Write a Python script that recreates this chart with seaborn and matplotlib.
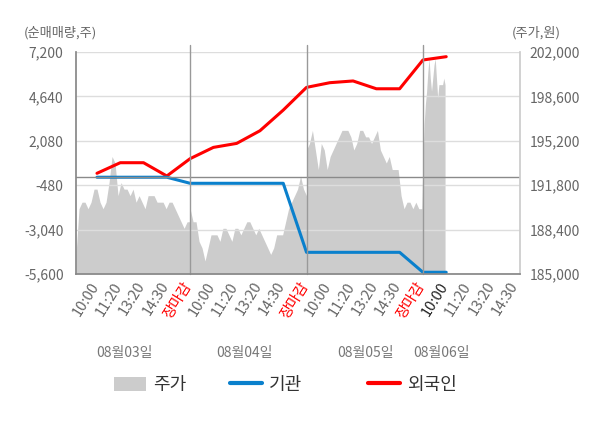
import numpy as np
import pandas as pd
import seaborn as sns
import matplotlib.pyplot as plt
import matplotlib.transforms as mtransforms
from matplotlib.patches import Patch
from matplotlib.lines import Line2D

# x axis labels (one per slot)
tick_labels = ["10:00", "11:20", "13:20", "14:30", "장마감",
               "10:00", "11:20", "13:20", "14:30", "장마감",
               "10:00", "11:20", "13:20", "14:30", "장마감",
               "10:00", "11:20", "13:20", "14:30"]
dates = ["08월03일", "08월04일", "08월05일", "08월06일"]

# net buying (shares) at each published time, slots 1..16
foreign = [206, 817, 817, 50, 1050, 1700, 1930, 2660, 3850, 5160,
           5430, 5530, 5080, 5080, 6740, 6930]
inst = [-20, -20, -20, -20, -370, -370, -370, -370, -370, -4350,
        -4350, -4350, -4350, -4350, -5500, -5500]

# intraday price (won)
price_d1 = [186500, 190000, 190500, 190500, 190000, 190500, 191500, 191500, 190500, 190000,
            190500, 192000, 194000, 193500, 191000, 192000, 191500, 191500, 191000, 191500,
            190500, 191000, 190500, 190000, 191000, 191000, 191000, 190500, 190500, 190500,
            190000, 190500, 190500, 190000, 189500, 189000, 188500, 189000, 189000]
price_d2 = [190000, 189000, 189000, 187500, 187000, 186000, 187000, 188000, 188000, 188000,
            187500, 188500, 188500, 188000, 187500, 188500, 188500, 188000, 188500, 189000,
            189000, 188500, 188000, 188500, 188000, 187500, 187000, 186500, 187000, 188000,
            188000, 188000, 189000, 190000, 190500, 191000, 191500, 192500, 191500, 191000]
price_d3 = [194500, 195000, 196000, 194500, 193000, 195000, 194500, 193000, 194000, 194500,
            195000, 195500, 196000, 196000, 196000, 195500, 194500, 195000, 196000, 196000,
            195500, 195500, 195000, 195500, 196000, 194500, 194000, 193500, 194000, 193000,
            193000, 193000, 191000, 190000, 190500, 190500, 190000, 190500, 190000, 190000]
price_d4 = [193500, 196500, 198000, 199000, 200500, 201500, 200000, 199000, 200000, 201000,
            201500, 200000, 198500, 199500, 199500, 199500, 199500, 200000, 199500]

day_spans = [(0.1, 5.0), (5.0, 10.0), (10.0, 14.95), (15.0, 15.95)]

price_x, price_y = [], []
for (a, b), p in zip(day_spans, [price_d1, price_d2, price_d3, price_d4]):
    price_x.extend(np.linspace(a, b, len(p)))
    price_y.extend(p)
price_df = pd.DataFrame({"slot": price_x, "price": price_y})

lines_df = pd.DataFrame({"slot": np.arange(1, len(foreign) + 1),
                         "foreign": foreign, "inst": inst})

sns.set_theme(style="white")
plt.rcParams["font.family"] = ["Noto Sans CJK KR", "DejaVu Sans"]

fig = plt.figure(figsize=(6, 4.28), dpi=100)
ax = fig.add_axes([0.1267, 0.3598, 0.74, 0.5187])
ax2 = ax.twinx()

# price area on the back axis
ax2.set_facecolor("#f4f4f4")
ax2.fill_between(price_df["slot"], 185000, price_df["price"], color="#cccccc", lw=0)
ax2.set_ylim(185000, 202000)
ax2.set_yticks(np.arange(185000, 202001, 3400))
ax2.set_yticklabels([f"{v:,}" for v in np.arange(185000, 202001, 3400)])
ax2.tick_params(axis="y", length=0, pad=7, labelsize=10, labelcolor="#666666")
for s in ax2.spines.values():
    s.set_visible(False)

# lines on the front axis
ax.set_zorder(ax2.get_zorder() + 1)
ax.patch.set_visible(False)
sns.lineplot(data=lines_df, x="slot", y="foreign", ax=ax, color="#ff0000", lw=2.2)
sns.lineplot(data=lines_df, x="slot", y="inst", ax=ax, color="#0a80cc", lw=2.2)

ax.set_ylim(-5600, 7200)
yt = np.arange(-5600, 7201, 2560)
ax.set_yticks(yt)
ax.set_yticklabels([f"{v:,}" for v in yt])
ax.tick_params(axis="y", length=0, pad=9, labelsize=10, labelcolor="#666666")
ax.grid(axis="y", color="#dddddd", lw=1)
ax.axhline(0, color="#8a8a8a", lw=1)
for v in [5, 10, 15]:
    ax.axvline(v, color="#999999", lw=1, ymax=1.03, clip_on=False)

ax.xaxis.remove_overlapping_locs = False
ax.set_xlim(0.1, 19.17)
ax.set_xticks([0.1, 5, 10, 15, 19.17])
ax.set_xticklabels([])
ax.tick_params(axis="x", which="major", length=4, width=1, color="#888888")
ax.set_xticks(np.arange(1, 20), minor=True)
ax.set_xticklabels(tick_labels, minor=True, rotation=58, ha="right")
ax.tick_params(axis="x", which="minor", length=0, pad=4, labelsize=10.5)
shift = mtransforms.ScaledTranslation(0.045, 0, fig.dpi_scale_trans)
for i, lbl in enumerate(ax.get_xticklabels(minor=True)):
    lbl.set_transform(lbl.get_transform() + shift)
    if tick_labels[i] == "장마감":
        lbl.set_color("#ff0000")
    elif i == 15:
        lbl.set_color("#222222")
    else:
        lbl.set_color("#666666")
ax.set_xlabel("")
ax.set_ylabel("")

ax.spines["top"].set_visible(False)
ax.spines["left"].set_color("#888888")
ax.spines["bottom"].set_color("#888888")
ax.spines["right"].set_color("#cccccc")

trans = mtransforms.blended_transform_factory(ax.transData, ax.transAxes)
for x, d in zip([2.2, 7.35, 12.55, 15.8], dates):
    ax.text(x, -0.356, d, transform=trans, ha="center", va="center",
            fontsize=10, color="#777777")

fig.text(0.1, 0.923, "(순매매량,주)", ha="center", va="center", fontsize=9.5, color="#666666")
fig.text(0.893, 0.923, "(주가,원)", ha="center", va="center", fontsize=9.5, color="#666666")

# legend: one entry per box, placed like the original
handles = [Patch(facecolor="#cccccc", edgecolor="none"),
           Line2D([], [], color="#0a80cc", lw=3),
           Line2D([], [], color="#ff0000", lw=3)]
names = ["주가", "기관", "외국인"]
for h, n, lx in zip(handles, names, [0.19, 0.383, 0.613]):
    fig.legend([h], [n], loc="center left", bbox_to_anchor=(lx, 0.1),
               frameon=False, fontsize=13, handlelength=1.78, handleheight=0.85,
               handletextpad=0.4, borderpad=0, borderaxespad=0, labelcolor="#333333")

fig.savefig("out.png", dpi=100, facecolor="white")
